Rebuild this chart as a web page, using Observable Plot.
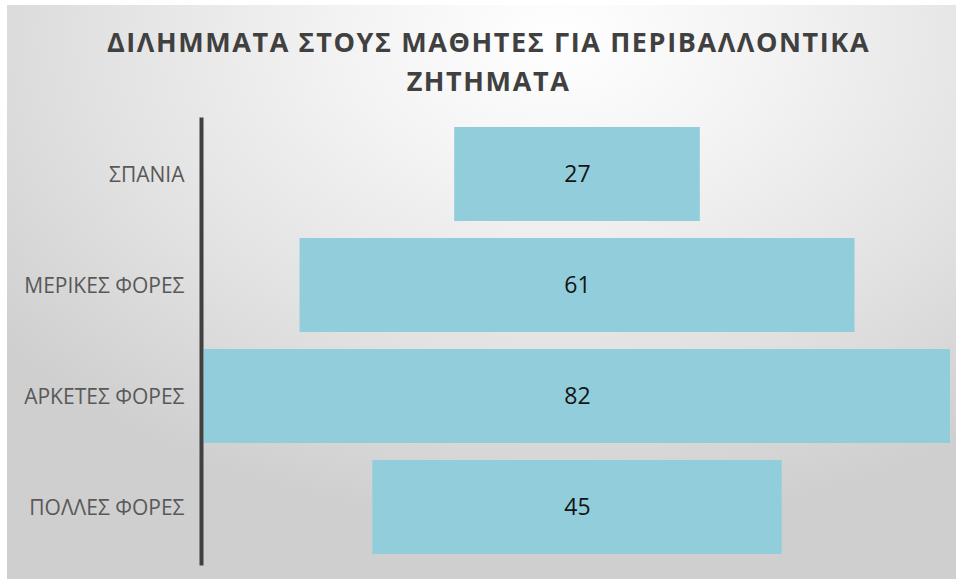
<!DOCTYPE html>
<html>
<head>
<meta charset="utf-8">
<script src="https://cdn.jsdelivr.net/npm/d3@7"></script>
<script src="https://cdn.jsdelivr.net/npm/@observablehq/plot@0.6"></script>
<style>
  html, body { margin: 0; padding: 0; background: #ffffff; }
  #chart {
    position: absolute; left: 7px; top: 5px; width: 949px; height: 574px;
    background: radial-gradient(ellipse 75% 85% at 58% 6%, #ffffff 0%, #f3f3f3 30%, #e2e2e2 65%, #cfcfcf 100%);
    overflow: hidden;
  }
  #title {
    position: absolute; left: 7px; top: 17px; width: 100%; text-align: center;
    font-family: "Open Sans", sans-serif; font-weight: 700; font-size: 27px; line-height: 39px;
    color: #404040; letter-spacing: 1.6px;
  }
  #plot { position: absolute; left: -7px; top: -5px; }
</style>
</head>
<body>
<div id="chart">
  <div id="title">ΔΙΛΗΜΜΑΤΑ ΣΤΟΥΣ ΜΑΘΗΤΕΣ ΓΙΑ ΠΕΡΙΒΑΛΛΟΝΤΙΚΑ<br>ΖΗΤΗΜΑΤΑ</div>
  <div id="plot"></div>
</div>
<script>
const categories = ["ΣΠΑΝΙΑ", "ΜΕΡΙΚΕΣ ΦΟΡΕΣ", "ΑΡΚΕΤΕΣ ΦΟΡΕΣ", "ΠΟΛΛΕΣ ΦΟΡΕΣ"];
const values = [27, 61, 82, 45];

const data = categories.map((c, i) => ({cat: c, value: values[i]}));
const maxV = d3.max(values);

const chart = Plot.plot({
  width: 956,
  height: 579,
  marginLeft: 204,
  marginRight: 6,
  marginTop: 119,
  marginBottom: 16,
  style: {background: "transparent", fontFamily: "'Open Sans', sans-serif", fontSize: "20px"},
  x: {domain: [-maxV / 2, maxV / 2], axis: null},
  y: {domain: categories, paddingInner: 0.15, paddingOuter: 0.075, label: null},
  marks: [
    Plot.barX(data, {y: "cat", x1: d => -d.value / 2, x2: d => d.value / 2, fill: "#92CDDC"}),
    Plot.text(data, {y: "cat", x: 0, text: d => String(d.value), fill: "#141414", fontSize: 23}),
    Plot.axisY({tickSize: 0, tickPadding: 20, fontSize: 21, dy: 1, fill: "#595959", color: "#595959"}),
    Plot.frame({anchor: "left", stroke: "#404040", strokeWidth: 4, dx: -3})
  ]
});
document.getElementById("plot").appendChild(chart);
</script>
</body>
</html>
